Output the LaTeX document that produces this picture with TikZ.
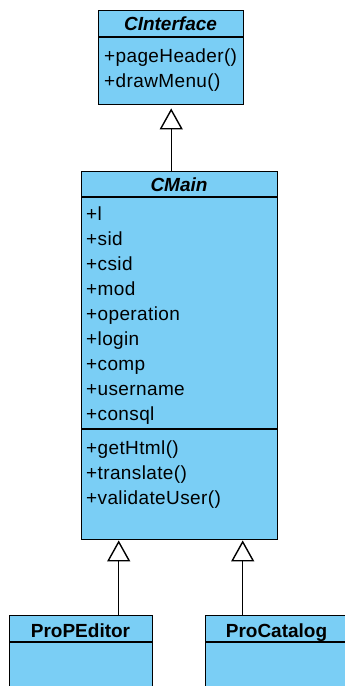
\documentclass[tikz,border=0pt]{standalone}
\usepackage{fontspec}
\setmainfont{Liberation Sans}
\usetikzlibrary{arrows.meta}

\definecolor{classfill}{RGB}{122,206,245}

\tikzset{
  classbox/.style={draw=black, fill=classfill, line width=1.4pt, anchor=north west, inner sep=0pt},
  classline/.style={draw=black, line width=1.4pt},
  classtitle/.style={anchor=base, inner sep=0pt, font=\fontsize{19}{22}\selectfont\bfseries},
  member/.style={anchor=base west, inner sep=0pt, font=\fontsize{19}{22}\selectfont\addfontfeature{LetterSpace=2}},
  inherit/.style={-{Triangle[length=21pt,width=23pt,fill=white]}, line width=1.4pt},
}

\begin{document}
\begin{tikzpicture}[x=1pt, y=-1pt]
\useasboundingbox (0,0) rectangle (345,686);
\clip (0,0) rectangle (345,686);

% CInterface
\node[classbox, minimum width=145pt, minimum height=94pt] (cinterface) at (98,10) {};
\draw[classline] ([yshift=-27pt]cinterface.north west) -- ([yshift=-27pt]cinterface.north east);
\node[classtitle] (cinterface-title) at (170.5,30) {\itshape CInterface};
\node[member] (ci-op1) at (104,62) {+pageHeader()};
\node[member] (ci-op2) at (104,87) {+drawMenu()};

% CMain
\node[classbox, minimum width=196pt, minimum height=368pt] (cmain) at (81,171) {};
\draw[classline] ([yshift=-26pt]cmain.north west) -- ([yshift=-26pt]cmain.north east);
\draw[classline] ([yshift=-258pt]cmain.north west) -- ([yshift=-258pt]cmain.north east);
\node[classtitle] (cmain-title) at (179,191) {\itshape CMain};
\foreach \attr [count=\i from 0] in {l,sid,csid,mod,operation,login,comp,username,consql}
  \node[member] (cm-attr\i) at (86,220+25.1*\i) {+\attr};
\foreach \op [count=\i from 0] in {getHtml(),translate(),validateUser()}
  \node[member] (cm-op\i) at (86,454+25*\i) {+\op};

% subclasses
\node[classbox, minimum width=143pt, minimum height=120pt] (propeditor) at (9,615) {};
\draw[classline] ([yshift=-27pt]propeditor.north west) -- ([yshift=-27pt]propeditor.north east);
\node[classtitle] (propeditor-title) at (80.5,637) {ProPEditor};

\node[classbox, minimum width=143pt, minimum height=120pt] (procatalog) at (205,615) {};
\draw[classline] ([yshift=-27pt]procatalog.north west) -- ([yshift=-27pt]procatalog.north east);
\node[classtitle] (procatalog-title) at (276.5,637) {ProCatalog};

% generalizations
\draw[inherit] (cmain.north -| cinterface.south) -- ([yshift=-3pt]cinterface.south);
\draw[inherit] ([xshift=37.5pt]propeditor.north) -- ([xshift=37.5pt]propeditor.north |- cmain.south);
\draw[inherit] ([xshift=-34.5pt]procatalog.north) -- ([xshift=-34.5pt]procatalog.north |- cmain.south);
\end{tikzpicture}
\end{document}
